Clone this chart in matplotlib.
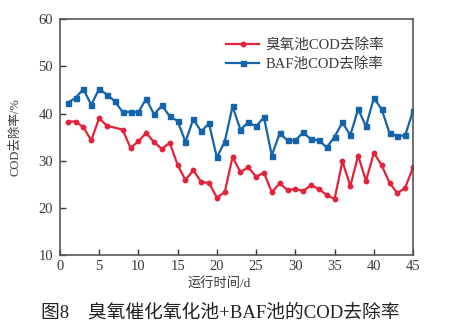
import matplotlib
matplotlib.use('Agg')
import matplotlib.pyplot as plt
import numpy as np

plt.rcParams['font.family'] = ['Liberation Serif', 'Noto Sans CJK SC', 'DejaVu Sans']

# ozone tank, day 7 not measured
days_o3 = [1, 2, 3, 4, 5, 6, 8, 9, 10, 11, 12, 13, 14, 15, 16, 17, 18, 19, 20,
           21, 22, 23, 24, 25, 26, 27, 28, 29, 30, 31, 32, 33, 34, 35, 36, 37,
           38, 39, 40, 41, 42, 43, 44, 45]
cod_o3 = [38.3, 38.3, 37.1, 34.3, 39.0, 37.4, 36.6, 32.7, 34.1, 35.9, 33.9,
          32.5, 33.8, 29.1, 25.9, 28.0, 25.5, 25.3, 22.2, 23.3, 30.8, 27.6,
          28.6, 26.6, 27.5, 23.3, 25.2, 23.8, 24.0, 23.6, 24.8, 24.0, 22.7,
          21.9, 29.9, 24.6, 31.1, 25.7, 31.7, 29.0, 25.3, 23.1, 24.3, 28.6]

days_baf = list(range(1, 46))
cod_baf = [42.3, 43.3, 45.2, 41.8, 45.2, 44.0, 42.6, 40.3, 40.3, 40.3, 43.1,
           39.8, 41.7, 39.4, 38.4, 34.0, 38.8, 36.2, 37.9, 30.7, 34.0, 41.5,
           36.6, 38.1, 37.3, 39.2, 31.1, 35.8, 34.3, 34.3, 36.0, 34.5, 34.3,
           32.8, 35.1, 38.1, 35.4, 40.9, 37.3, 43.3, 40.9, 35.8, 35.2, 35.4,
           40.6]

red = '#e3223b'
blue = '#1363ad'
ink = '#3a3a3a'

fig = plt.figure(figsize=(4.5, 3.3), dpi=100)
ax = fig.add_axes([0.133, 0.227, 0.785, 0.715])

ax.plot(days_o3, cod_o3, color=red, lw=1.6, marker='o', ms=3.2,
        label='臭氧池COD去除率')
ax.plot(days_baf, cod_baf, color=blue, lw=1.6, marker='s', ms=3.6,
        label='BAF池COD去除率')

ax.set_xlim(0, 45)
ax.set_ylim(10, 60)
ax.set_xticks(np.arange(0, 46, 5))
ax.set_yticks(np.arange(10, 61, 10))
ax.tick_params(direction='in', length=4, width=1, colors=ink, labelsize=10.5,
               top=False, right=False)
ax.tick_params(axis='y', pad=5)
for s in ax.spines.values():
    s.set_color('#555555')
    s.set_linewidth(1.2)

ax.set_xlabel('运行时间/d', fontsize=9.5, color=ink)
ax.xaxis.set_label_coords(0.45, -0.095)
ax.set_ylabel('COD去除率/%', fontsize=9, color=ink)
ax.yaxis.set_label_coords(-0.11, 0.5)

leg = ax.legend(loc='upper right', frameon=False, fontsize=10.5,
                handlelength=2.3, handletextpad=0.4,
                bbox_to_anchor=(0.955, 0.975), labelspacing=0.35)
for t in leg.get_texts():
    t.set_color(ink)

fig.text(0.49, 0.052, '图8\u3000臭氧催化氧化池+BAF池的COD去除率',
         ha='center', va='center', fontsize=13.5, color='#222222')

fig.savefig('out.png', dpi=100)
